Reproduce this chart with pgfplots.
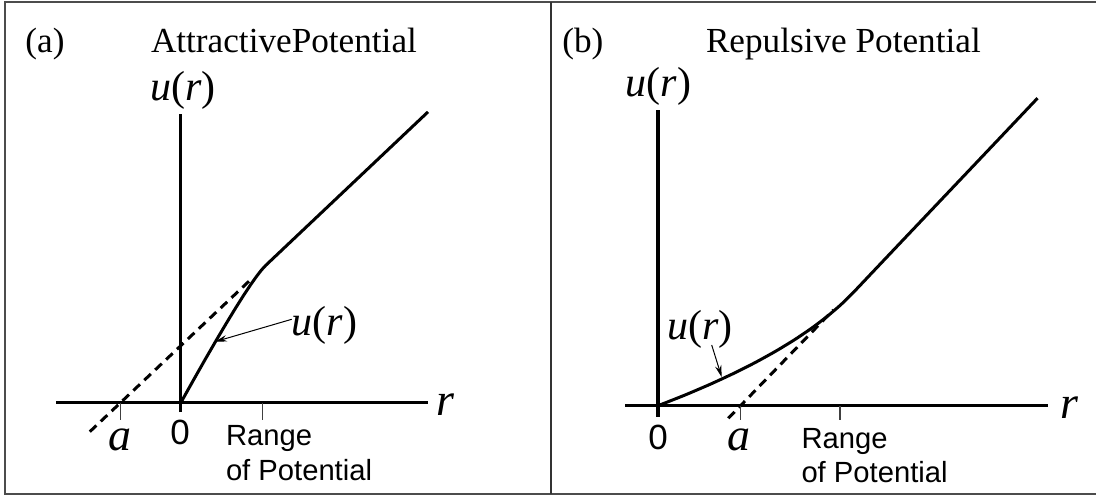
\documentclass[border=0pt]{standalone}
\usepackage{fontspec}
\usepackage{pgfplots}
\pgfplotsset{compat=1.18}
\usetikzlibrary{arrows.meta}

\setmainfont{Liberation Serif}
\newfontfamily\tnr{Liberation Serif}
\newfontfamily\arial{Liberation Sans}

\newcommand{\ur}{\textit{u}(\textit{r})}

% one axis unit = one drawing unit of 0.5pt
\pgfplotsset{
  potential/.style={
    x=0.5pt, y=0.5pt, anchor=origin,
    axis lines=middle,
    axis line style={-, line width=1.6pt},
    xtick=\empty, ytick=\empty,
    clip=false,
  },
}
\tikzset{
  curve/.style={line width=1.5pt, line join=round},
  asym/.style={line width=1.5pt, dash pattern=on 4.5pt off 3pt},
  pointer/.style={line width=0.5pt, -{Stealth[length=6pt,width=3.2pt]}},
  tickln/.style={line width=0.6pt, black!75},
  ttl/.style={inner sep=0pt, anchor=base west, font=\tnr\fontsize{17.6}{21}\selectfont},
  fn/.style={inner sep=0pt, font=\tnr\fontsize{21}{25}\selectfont},
  var/.style={inner sep=0pt, font=\tnr\fontsize{23}{27}\selectfont},
  zero/.style={inner sep=0pt, anchor=base, font=\arial\fontsize{17.5}{20}\selectfont},
  rng/.style={inner sep=0pt, anchor=base west, font=\arial\fontsize{14.6}{17}\selectfont},
}

\begin{document}
\begin{tikzpicture}
\useasboundingbox (0pt,0pt) rectangle (548pt,-248pt);

% frame and divider
\draw[black!70, line width=1pt] (548pt,-1pt) -- (2.5pt,-1pt) -- (2.5pt,-247pt) -- (548pt,-247pt);
\draw[black!80, line width=0.6pt] (275.5pt,-1pt) -- (275.5pt,-247pt);

% panel headings
\node[ttl] at (12.5pt,-26.5pt) {(a)};
\node[ttl] at (75.3pt,-26.5pt) {AttractivePotential};
\node[ttl] at (281pt,-26.5pt) {(b)};
\node[ttl] at (352.8pt,-26.5pt) {Repulsive Potential};

% (a) attractive potential
\begin{axis}[potential, at={(90.4pt,-201.35pt)},
  xmin=-124.8, xmax=247.2, ymin=-9.3, ymax=288.7]
  \addplot[curve] coordinates {
    (0,0) (12.85,22.97) (24.74,43.9) (35.66,62.77) (45.62,79.58)
    (54.6,94.35) (62.62,107.06) (69.66,117.73) (75.74,126.34)
    (80.85,132.89) (85,137.4) (247.2,290.8)};
  \addplot[asym] coordinates {(-91,-29) (72,125.1)};
  \draw[tickln] (axis cs:-60.2,0) -- (axis cs:-60.2,-17.3);
  \draw[tickln] (axis cs:81.4,0) -- (axis cs:81.4,-17.3);
  \draw[pointer] (axis cs:110.9,83.4) -- (axis cs:34.2,61);
  \node[fn, anchor=west] at (axis cs:110.5,77.7) {\ur};
  \node[fn, anchor=base west] at (axis cs:-31,301.7) {\ur};
  \node[var, anchor=base west] at (axis cs:255,-12.3) {\textit{r}};
  \node[var, anchor=base] at (axis cs:-60.8,-47.3) {\textit{a}};
  \node[zero] at (axis cs:-0.8,-41.3) {0};
  \node[rng] at (axis cs:44.8,-42.3) {Range};
  \node[rng] at (axis cs:44.8,-77.3) {of Potential};
\end{axis}

% (b) repulsive potential
\begin{axis}[potential, at={(329pt,-202.85pt)},
  xmin=-33, xmax=390, ymin=-11, ymax=295.7]
  \addplot[curve, smooth, tension=0.35] coordinates {
    (0,0) (26.7,10.54) (51.8,21.26) (75.3,32.13) (97.2,43.16)
    (117.5,54.38) (136.2,65.74) (153.3,77.29) (168.8,89)
    (182.7,100.86) (195,112.9) (215,134) (240,160.4) (290,213.1)
    (340,265.8) (379.5,307.5)};
  \addplot[asym] coordinates {(70.3,-12.6) (175.3,95.7)};
  \draw[tickln] (axis cs:82.3,0) -- (axis cs:82.3,-14.3);
  \draw[tickln] (axis cs:182,0) -- (axis cs:182,-14.3);
  \draw[pointer] (axis cs:53.7,60.7) -- (axis cs:63.7,28.5);
  \node[fn, anchor=west] at (axis cs:9,76.7) {\ur};
  \node[fn, anchor=base west] at (axis cs:-32.5,308.7) {\ur};
  \node[var, anchor=base west] at (axis cs:402.5,-12.6) {\textit{r}};
  \node[var, anchor=base] at (axis cs:80.5,-44.3) {\textit{a}};
  \node[zero] at (axis cs:0,-43.6) {0};
  \node[rng] at (axis cs:143.1,-42.3) {Range};
  \node[rng] at (axis cs:143.1,-77) {of Potential};
\end{axis}
\end{tikzpicture}
\end{document}
